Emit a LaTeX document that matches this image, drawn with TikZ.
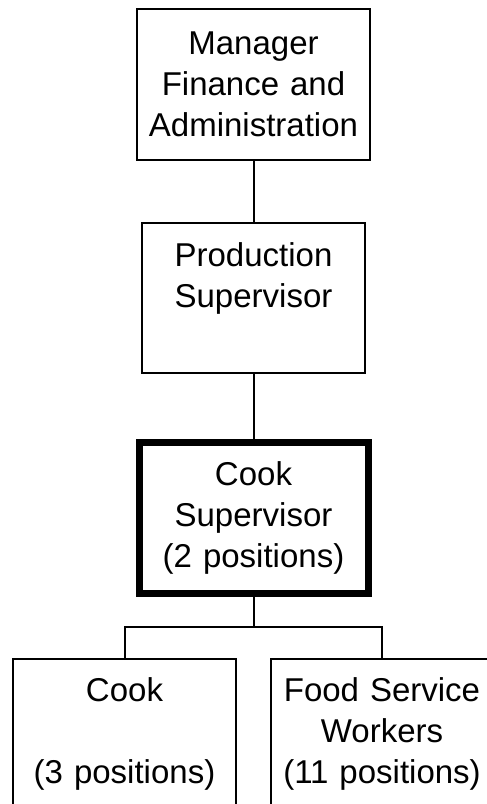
\documentclass[tikz,border=0pt]{standalone}
\usepackage{fontspec}
\setmainfont{Liberation Sans}
\begin{document}
\begin{tikzpicture}[x=1pt,y=-1pt,
                    post/.style={draw, line width=2pt, anchor=north,
                                 inner sep=0pt, text width=223pt, align=center,
                                 font=\fontsize{33}{41}\selectfont},
                    lead/.style={line width=2pt}]
\useasboundingbox (0,0) rectangle (487,804);
\clip (0,0) rectangle (487,804);

\node[post, text width=233pt, text height=45pt, text depth=106pt] (mgr) at (253.5,8) {Manager\\Finance and\\Administration};
\node[post, text height=43pt, text depth=107pt] (prod) at (253.5,222) {Production\\Supervisor};
\node[post, line width=7pt, text width=229pt, text height=43pt, text depth=108pt] (cooksup) at (253.5,439) {Cook\\Supervisor\\(2 positions)};

\node[post, text height=42pt, text depth=200pt] (cook) at (124.5,658) {Cook\\~\\(3 positions)};
\node[post, text height=42pt, text depth=200pt] (fsw) at (382,658) {Food Service\\Workers\\(11 positions)};

\coordinate (bar) at (253.5,627);

\draw[lead] (mgr) -- (prod);
\draw[lead] (prod) -- (cooksup);
\draw[lead] (cooksup) -- (bar);
\draw[lead] (cook.north) |- (bar) -| (fsw.north);

\end{tikzpicture}
\end{document}
